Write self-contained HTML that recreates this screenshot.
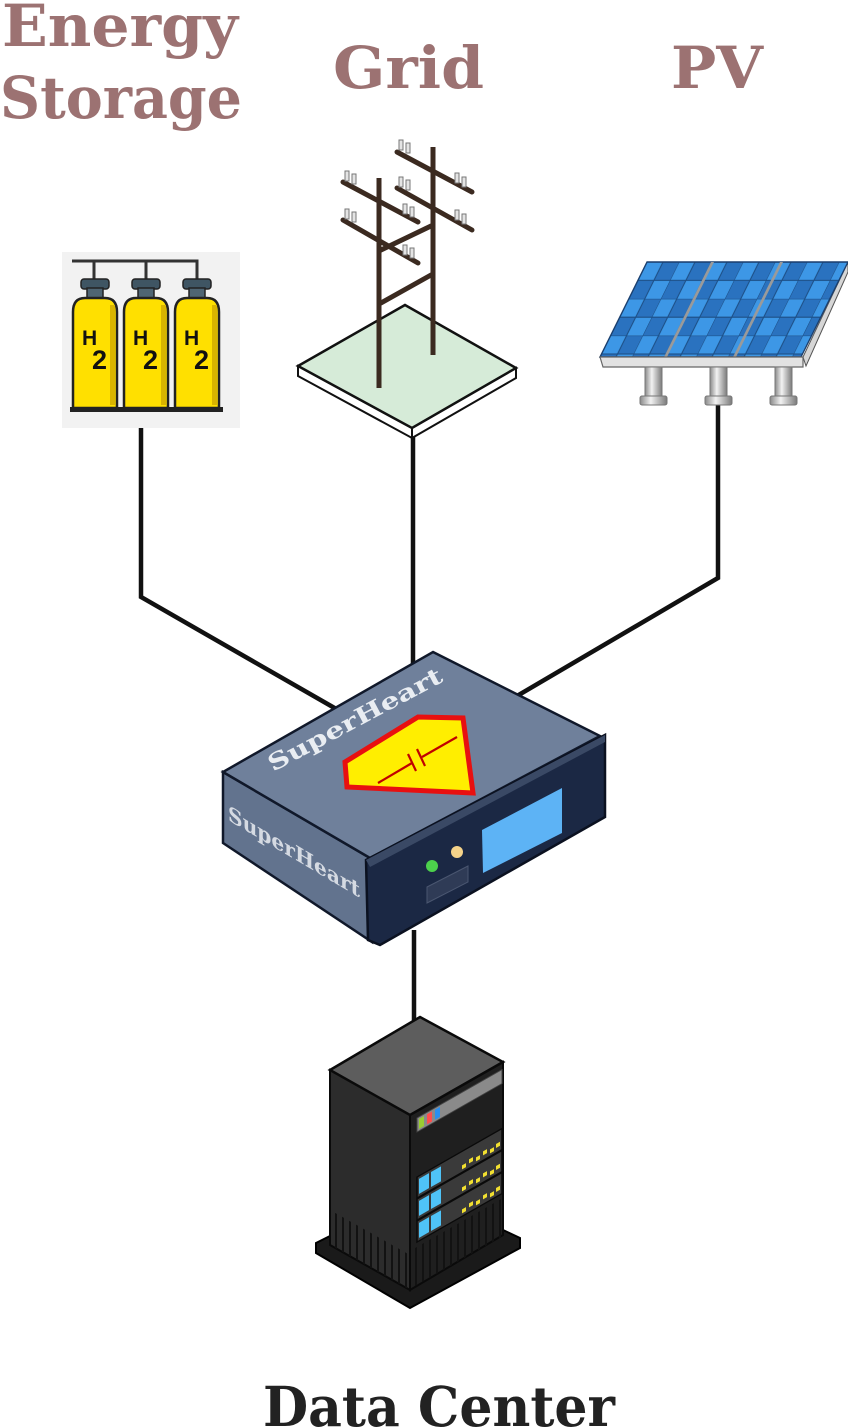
<!DOCTYPE html>
<html><head><meta charset="utf-8"><style>
html,body{margin:0;padding:0;background:#fff;}
svg{display:block;}
</style></head><body>
<svg width="848" height="1427" viewBox="0 0 848 1427" xmlns="http://www.w3.org/2000/svg">
<defs>
<pattern id="cells" patternUnits="userSpaceOnUse" width="32" height="36.8">
<rect width="32" height="36.8" fill="#2a72bf"/>
<rect x="0" y="0" width="16" height="18.4" fill="#3d97e6"/>
<rect x="16" y="18.4" width="16" height="18.4" fill="#3d97e6"/>
<path d="M0,0H32M0,18.4H32M0,0V36.8M16,0V36.8" stroke="#1d4f86" stroke-width="1.2" fill="none"/>
</pattern>
<linearGradient id="leg" x1="0" x2="1" y1="0" y2="0">
<stop offset="0" stop-color="#8a8a8a"/><stop offset="0.4" stop-color="#f2f2f2"/><stop offset="1" stop-color="#7a7a7a"/>
</linearGradient>
</defs>

<!-- Labels -->
<g font-family="'DejaVu Serif','Liberation Serif',serif" font-weight="bold">
<text x="2" y="46" font-size="58" fill="#9c7272" textLength="236" lengthAdjust="spacingAndGlyphs">Energy</text>
<text x="0" y="118" font-size="58" fill="#9c7272" textLength="242" lengthAdjust="spacingAndGlyphs">Storage</text>
<text x="333" y="88" font-size="58" fill="#9c7272" textLength="151" lengthAdjust="spacingAndGlyphs">Grid</text>
<text x="671" y="88" font-size="58" fill="#9c7272" textLength="92" lengthAdjust="spacingAndGlyphs">PV</text>
<text x="263" y="1426" font-size="55" fill="#222" textLength="352" lengthAdjust="spacingAndGlyphs">Data Center</text>
</g>

<!-- Connectors -->
<g stroke="#111" stroke-width="4.5" fill="none" stroke-linejoin="miter">
<path d="M141,428 V597 L345,714"/>
<path d="M413,436 V672"/>
<path d="M718,398 V578 L505,703"/>
<path d="M414,930 V1030"/>
</g>

<!-- H2 tanks -->
<rect x="62" y="252" width="178" height="176" fill="#f2f2f2"/>
<g stroke="#333" stroke-width="3" fill="none">
<path d="M72,261 H197 V282"/>
<path d="M94,261 V282"/>
<path d="M146,261 V282"/>
</g>
<g id="tanks">
<g>
<rect x="81" y="279" width="28" height="10" rx="3" fill="#3f5563" stroke="#222" stroke-width="1.5"/>
<rect x="87" y="288" width="16" height="10" fill="#4f6573" stroke="#222" stroke-width="1.5"/>
<path d="M73,408 V312 Q73,298 85,298 H105 Q117,298 117,312 V408 Z" fill="#ffe000" stroke="#222" stroke-width="2.5"/>
<rect x="110" y="305" width="5" height="100" fill="#d9b400"/>
<text x="82" y="345" font-family="'Liberation Sans',sans-serif" font-weight="bold" font-size="21" fill="#111">H</text>
<text x="92" y="369" font-family="'Liberation Sans',sans-serif" font-weight="bold" font-size="27" fill="#111">2</text>
</g>
<g transform="translate(51,0)">
<rect x="81" y="279" width="28" height="10" rx="3" fill="#3f5563" stroke="#222" stroke-width="1.5"/>
<rect x="87" y="288" width="16" height="10" fill="#4f6573" stroke="#222" stroke-width="1.5"/>
<path d="M73,408 V312 Q73,298 85,298 H105 Q117,298 117,312 V408 Z" fill="#ffe000" stroke="#222" stroke-width="2.5"/>
<rect x="110" y="305" width="5" height="100" fill="#d9b400"/>
<text x="82" y="345" font-family="'Liberation Sans',sans-serif" font-weight="bold" font-size="21" fill="#111">H</text>
<text x="92" y="369" font-family="'Liberation Sans',sans-serif" font-weight="bold" font-size="27" fill="#111">2</text>
</g>
<g transform="translate(102,0)">
<rect x="81" y="279" width="28" height="10" rx="3" fill="#3f5563" stroke="#222" stroke-width="1.5"/>
<rect x="87" y="288" width="16" height="10" fill="#4f6573" stroke="#222" stroke-width="1.5"/>
<path d="M73,408 V312 Q73,298 85,298 H105 Q117,298 117,312 V408 Z" fill="#ffe000" stroke="#222" stroke-width="2.5"/>
<rect x="110" y="305" width="5" height="100" fill="#d9b400"/>
<text x="82" y="345" font-family="'Liberation Sans',sans-serif" font-weight="bold" font-size="21" fill="#111">H</text>
<text x="92" y="369" font-family="'Liberation Sans',sans-serif" font-weight="bold" font-size="27" fill="#111">2</text>
</g>
</g>
<rect x="70" y="407" width="153" height="5" fill="#222"/>

<!-- Grid base -->
<polygon points="298,366 412,428 412,438 298,376" fill="#fff" stroke="#111" stroke-width="2"/>
<polygon points="412,428 516,368 516,378 412,438" fill="#fff" stroke="#111" stroke-width="2"/>
<polygon points="405,305 516,368 412,428 298,366" fill="#d6ebd8" stroke="#111" stroke-width="2.5"/>

<!-- Tower -->
<g stroke="#3b2a20" stroke-width="5" stroke-linecap="round">
<line x1="343" y1="182" x2="418" y2="222"/>
<line x1="343" y1="220" x2="418" y2="263"/>
<line x1="397" y1="152" x2="472" y2="192"/>
<line x1="397" y1="188" x2="472" y2="230"/>
<line x1="379" y1="178" x2="379" y2="388" stroke-linecap="butt"/>
<line x1="433" y1="147" x2="433" y2="355" stroke-linecap="butt"/>
<line x1="381" y1="250" x2="431" y2="226"/>
<line x1="381" y1="303" x2="431" y2="275"/>
</g>
<g fill="#e4e4e4" stroke="#777" stroke-width="1">
<rect x="345" y="171" width="4" height="10"/><rect x="352" y="174" width="4" height="10"/>
<rect x="345" y="209" width="4" height="10"/><rect x="352" y="212" width="4" height="10"/>
<rect x="399" y="140" width="4" height="10"/><rect x="406" y="143" width="4" height="10"/>
<rect x="399" y="177" width="4" height="10"/><rect x="406" y="180" width="4" height="10"/>
<rect x="455" y="173" width="4" height="10"/><rect x="462" y="177" width="4" height="10"/>
<rect x="455" y="210" width="4" height="10"/><rect x="462" y="214" width="4" height="10"/>
<rect x="403" y="204" width="4" height="10"/><rect x="410" y="207" width="4" height="10"/>
<rect x="403" y="245" width="4" height="10"/><rect x="410" y="248" width="4" height="10"/>
</g>

<!-- Solar panel -->
<polygon points="848,262 848,272 806,366 803,357" fill="#d6d6d6" stroke="#555" stroke-width="1"/>
<g transform="matrix(1,0,-0.4947,1,647,262)">
<rect x="0" y="0" width="201" height="95" fill="url(#cells)" stroke="#1b3f6e" stroke-width="1.5"/>
<rect x="64" y="0" width="3" height="95" fill="#9a9a9a"/>
<rect x="133" y="0" width="3" height="95" fill="#9a9a9a"/>
</g>
<polygon points="600,357 803,357 803,367 603,367" fill="#e2e2e2" stroke="#666" stroke-width="1.2"/>
<g stroke="#777" stroke-width="1">
<rect x="645" y="367" width="17" height="30" fill="url(#leg)"/>
<rect x="710" y="367" width="17" height="30" fill="url(#leg)"/>
<rect x="775" y="367" width="17" height="30" fill="url(#leg)"/>
<rect x="640" y="396" width="27" height="9" rx="2" fill="url(#leg)"/>
<rect x="705" y="396" width="27" height="9" rx="2" fill="url(#leg)"/>
<rect x="770" y="396" width="27" height="9" rx="2" fill="url(#leg)"/>
</g>

<!-- SuperHeart box -->
<polygon points="223,772 370,858 372,942 223,843" fill="#62738e" stroke="#10182a" stroke-width="2.5"/>
<polygon points="433,652 600,736 370,858 223,772" fill="#6f809b" stroke="#10182a" stroke-width="2.5"/>
<polygon points="366,860 605,735 605,817 380,945 368,940" fill="#1b2844" stroke="#0b1120" stroke-width="2.5"/>
<polygon points="366,860 605,735 605,742 370,867" fill="#3a4965"/>
<polygon points="482,830 562,788 562,833 483,873" fill="#5db3f5"/>
<circle cx="432" cy="866" r="6" fill="#4cd04c"/>
<circle cx="457" cy="852" r="6" fill="#f5d38a"/>
<polygon points="427,887 468,866 468,882 427,903" fill="#2f3b56" stroke="#4a5670" stroke-width="1"/>
<polygon points="345,762 418,717 463,718 473,793 347,787" fill="#ffee00" stroke="#e81010" stroke-width="5" stroke-linejoin="miter"/>
<g stroke="#c00000" stroke-width="2.2">
<line x1="378" y1="783" x2="412" y2="763"/>
<line x1="422" y1="757" x2="457" y2="737"/>
<line x1="408" y1="754" x2="416" y2="771"/>
<line x1="417" y1="749" x2="425" y2="766"/>
</g>
<text transform="translate(273,772) rotate(-28)" font-family="'DejaVu Serif','Liberation Serif',serif" font-weight="bold" font-size="23" fill="#e9edf2" textLength="194" lengthAdjust="spacingAndGlyphs">SuperHeart</text>
<text transform="matrix(1,0.59,0,1,228,820)" font-family="'DejaVu Serif','Liberation Serif',serif" font-weight="bold" font-size="21" fill="#d5dae2" textLength="132" lengthAdjust="spacingAndGlyphs">SuperHeart</text>

<!-- Server -->
<polygon points="316,1243 330,1236 410,1282 503,1230 520,1238 520,1248 410,1308 316,1253" fill="#1a1a1a" stroke="#000" stroke-width="2"/>
<polygon points="330,1070 410,1115 410,1290 330,1245" fill="#2c2c2c" stroke="#0a0a0a" stroke-width="2"/>
<polygon points="410,1115 503,1062 503,1235 410,1290" fill="#1f1f1f" stroke="#0a0a0a" stroke-width="2"/>
<polygon points="420,1017 503,1062 410,1115 330,1070" fill="#5d5d5d" stroke="#0a0a0a" stroke-width="2.5"/>
<g transform="matrix(1,0.5625,0,1,330,1070)" stroke="#121212" stroke-width="2">
<line x1="6" y1="140" x2="6" y2="175"/><line x1="13" y1="140" x2="13" y2="175"/><line x1="20" y1="140" x2="20" y2="175"/>
<line x1="27" y1="140" x2="27" y2="175"/><line x1="34" y1="140" x2="34" y2="175"/><line x1="41" y1="140" x2="41" y2="175"/>
<line x1="48" y1="140" x2="48" y2="175"/><line x1="55" y1="140" x2="55" y2="175"/><line x1="62" y1="140" x2="62" y2="175"/>
<line x1="69" y1="140" x2="69" y2="175"/><line x1="76" y1="140" x2="76" y2="175"/>
</g>
<g transform="matrix(1,-0.57,0,1,410,1115)">
<rect x="7" y="7" width="85" height="14" fill="#8a8a8a" stroke="#444" stroke-width="1"/>
<rect x="9" y="9" width="5" height="10" fill="#9acd32"/>
<rect x="17" y="9" width="5" height="10" fill="#ff4d4d"/>
<rect x="25" y="9" width="5" height="10" fill="#2a8ff0"/>
<rect x="7" y="66" width="85" height="21" fill="#3a3a3a" stroke="#0a0a0a" stroke-width="1.5"/>
<rect x="7" y="88" width="85" height="21" fill="#3a3a3a" stroke="#0a0a0a" stroke-width="1.5"/>
<rect x="7" y="110" width="85" height="21" fill="#3a3a3a" stroke="#0a0a0a" stroke-width="1.5"/>
<g fill="#4fc3f7">
<rect x="9" y="69" width="10" height="15"/><rect x="21" y="69" width="10" height="15"/>
<rect x="9" y="91" width="10" height="15"/><rect x="21" y="91" width="10" height="15"/>
<rect x="9" y="113" width="10" height="15"/><rect x="21" y="113" width="10" height="15"/>
</g>
<g fill="#f2e030">
<rect x="52" y="80" width="4" height="4"/><rect x="59" y="78" width="4" height="4"/><rect x="66" y="80" width="4" height="4"/><rect x="73" y="78" width="4" height="4"/><rect x="80" y="80" width="4" height="4"/><rect x="86" y="78" width="4" height="4"/>
<rect x="52" y="102" width="4" height="4"/><rect x="59" y="100" width="4" height="4"/><rect x="66" y="102" width="4" height="4"/><rect x="73" y="100" width="4" height="4"/><rect x="80" y="102" width="4" height="4"/><rect x="86" y="100" width="4" height="4"/>
<rect x="52" y="124" width="4" height="4"/><rect x="59" y="122" width="4" height="4"/><rect x="66" y="124" width="4" height="4"/><rect x="73" y="122" width="4" height="4"/><rect x="80" y="124" width="4" height="4"/><rect x="86" y="122" width="4" height="4"/>
</g>
<g stroke="#121212" stroke-width="2">
<line x1="6" y1="136" x2="6" y2="174"/><line x1="13" y1="136" x2="13" y2="174"/><line x1="20" y1="136" x2="20" y2="174"/>
<line x1="27" y1="136" x2="27" y2="174"/><line x1="34" y1="136" x2="34" y2="174"/><line x1="41" y1="136" x2="41" y2="174"/>
<line x1="48" y1="136" x2="48" y2="174"/><line x1="55" y1="136" x2="55" y2="174"/><line x1="62" y1="136" x2="62" y2="174"/>
<line x1="69" y1="136" x2="69" y2="174"/><line x1="76" y1="136" x2="76" y2="174"/><line x1="83" y1="136" x2="83" y2="174"/>
<line x1="90" y1="136" x2="90" y2="174"/>
</g>
</g>
</svg>
</body></html>
